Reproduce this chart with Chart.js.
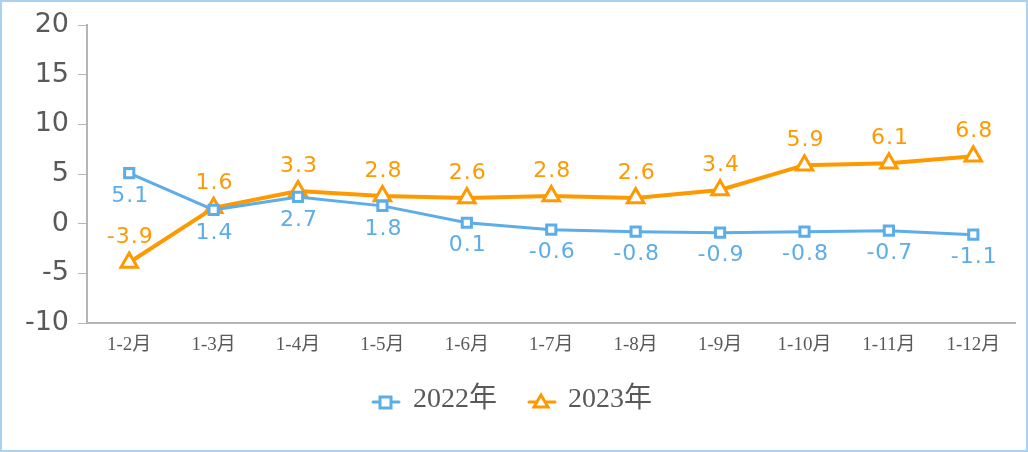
<!DOCTYPE html>
<html>
<head>
<meta charset="utf-8">
<script src="https://cdn.jsdelivr.net/npm/chart.js@4/dist/chart.umd.min.js"></script>
<style>
  html, body { margin: 0; padding: 0; background: #fff; }
  #wrap { width: 1028px; height: 452px; position: relative; }
</style>
</head>
<body>
<div id="wrap"><canvas id="c"></canvas></div>
<script>
var months = ["1-2月", "1-3月", "1-4月", "1-5月", "1-6月", "1-7月", "1-8月", "1-9月", "1-10月", "1-11月", "1-12月"];
var y2022 = [5.1, 1.4, 2.7, 1.8, 0.1, -0.6, -0.8, -0.9, -0.8, -0.7, -1.1];
var y2023 = [-3.9, 1.6, 3.3, 2.8, 2.6, 2.8, 2.6, 3.4, 5.9, 6.1, 6.8];
var seriesNames = ["2022年", "2023年"];

var BLUE = "#5dade8";
var ORANGE = "#ff9900";
var GREY_TEXT = "#595959";

// draws point labels, the legend and the frame
var extras = {
    id: 'extras',
    afterDatasetsDraw: function(chart){
        var ctx = chart.ctx;
        ctx.save();
        ctx.font = "22px 'DejaVu Sans'";
        ctx.letterSpacing = "1px";
        ctx.textAlign = "center";
        ctx.textBaseline = "middle";
        chart.data.datasets.forEach(function(ds, di){
            var meta = chart.getDatasetMeta(di);
            ctx.fillStyle = ds.borderColor;
            meta.data.forEach(function(pt, i){
                var dy = di === 0 ? 23 : -25;
                ctx.fillText(ds.data[i].toFixed(1), pt.x + 1, pt.y + dy);
            });
        });
        ctx.restore();
    },
    afterDraw: function(chart){
        var ctx = chart.ctx;
        ctx.save();
        // legend
        var items = [
            {x: 371, textX: 413, ds: chart.data.datasets[0]},
            {x: 527, textX: 568, ds: chart.data.datasets[1]}
        ];
        var ly = 402;
        items.forEach(function(it, k){
            var ds = it.ds;
            ctx.strokeStyle = ds.borderColor;
            ctx.lineWidth = 3;
            ctx.lineCap = "round";
            ctx.beginPath();
            ctx.moveTo(it.x + 2, ly);
            ctx.lineTo(it.x + 28, ly);
            ctx.stroke();
            ctx.fillStyle = "#fff";
            ctx.lineWidth = 3;
            ctx.lineCap = "butt";
            if (k === 0) {
                ctx.fillRect(it.x + 9, ly - 5, 11, 11);
                ctx.strokeRect(it.x + 9, ly - 5, 11, 11);
            } else {
                ctx.beginPath();
                ctx.moveTo(it.x + 14, ly - 7);
                ctx.lineTo(it.x + 21, ly + 5);
                ctx.lineTo(it.x + 7, ly + 5);
                ctx.closePath();
                ctx.fill();
                ctx.stroke();
            }
            ctx.fillStyle = GREY_TEXT;
            ctx.font = "28px 'Liberation Serif', 'Noto Sans CJK SC'";
            ctx.textAlign = "left";
            ctx.textBaseline = "middle";
            ctx.fillText(seriesNames[k], it.textX, ly - 2);
        });
        // outer frame
        ctx.strokeStyle = "#a9d1f4";
        ctx.lineWidth = 2;
        ctx.strokeRect(1, 1, chart.width - 2, chart.height - 2);
        ctx.restore();
    }
};

new Chart(document.getElementById("c"), {
    type: 'line',
    data: {
        labels: months,
        datasets: [
            {
                label: seriesNames[0],
                data: y2022,
                borderColor: BLUE,
                backgroundColor: "#fff",
                borderWidth: 3,
                pointStyle: 'rect',
                pointRadius: 6.5,
                pointBorderWidth: 3,
                pointBackgroundColor: "#fff",
                tension: 0
            },
            {
                label: seriesNames[1],
                data: y2023,
                borderColor: ORANGE,
                backgroundColor: "#fff",
                borderWidth: 4,
                pointStyle: 'triangle',
                pointRadius: 9.5,
                pointBorderWidth: 3,
                pointBackgroundColor: "#fff",
                tension: 0
            }
        ]
    },
    options: {
        responsive: true,
        maintainAspectRatio: false,
        animation: false,
        layout: { padding: { top: 25, right: 10, left: 0, bottom: 0 } },
        plugins: {
            legend: { display: false },
            tooltip: { enabled: false }
        },
        scales: {
            x: {
                offset: true,
                grid: { display: false, drawTicks: false },
                border: { color: "#b4b4b4", width: 2 },
                ticks: {
                    color: GREY_TEXT,
                    padding: 11,
                    maxRotation: 0,
                    autoSkip: false,
                    font: { family: "'Liberation Serif', 'Noto Sans CJK SC'", size: 19 }
                },
                afterFit: function(scale){ scale.height = 129; }
            },
            y: {
                min: -10,
                max: 20,
                grid: { drawOnChartArea: false, drawTicks: true, tickLength: 9, color: "#b4b4b4" },
                border: { color: "#b4b4b4", width: 2 },
                ticks: {
                    stepSize: 5,
                    color: GREY_TEXT,
                    padding: 9,
                    font: { family: "'DejaVu Sans'", size: 27 }
                },
                afterFit: function(scale){ scale.width = 87; }
            }
        }
    },
    plugins: [extras]
});
</script>
</body>
</html>
